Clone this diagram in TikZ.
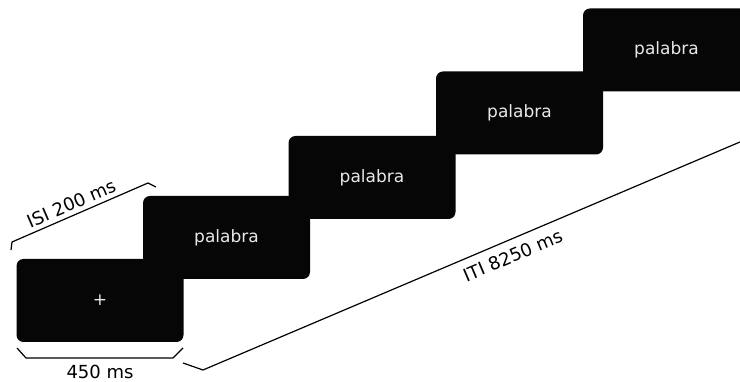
\documentclass[tikz,border=0pt]{standalone}
\usepackage{fontspec}
\setmainfont{DejaVu Sans}
\usepackage{xcolor}
\definecolor{screenblack}{HTML}{060606}
\definecolor{screentext}{HTML}{E8E8E8}

\begin{document}
\begin{tikzpicture}[x=1pt, y=1pt,
    screen/.style={rectangle, rounded corners=7pt, fill=screenblack, text=screentext,
        minimum width=167pt, minimum height=83pt, inner sep=0pt, font=\fontsize{17}{20}\selectfont},
    brace/.style={line width=1.2pt, line join=round},
    timing/.style={font=\fontsize{18}{21}\selectfont, text=black}]
    \useasboundingbox (0,0) rectangle (740,382);
    \clip (0,0) rectangle (740,382);

    % Screens of the trial
    \node[screen] (fix) at (100,81.5) {+};
    \node[screen] (w1) at (226.5,144.5) {palabra};
    \node[screen] (w2) at (372,204.5) {palabra};
    \node[screen] (w3) at (519.5,269) {palabra};
    \node[screen] (w4) at (666.5,332) {palabra};

    % Fixation duration
    \draw[brace] (17,34) -- (26,24) -- (173,24) -- (183,34);
    \node[timing, anchor=base, inner sep=0pt] (fixtime) at (100,3.5) {450 ms};

    % Interstimulus interval
    \draw[brace] (11,132) -- (12,140)
        -- node[timing, pos=0.47, above=1pt, sloped] (isi) {ISI 200 ms} (148,199) -- (156,195);

    % Intertrial interval
    \draw[brace] (183,19) -- (203,12)
        -- node[timing, pos=0.545, below=5pt, sloped] (iti) {ITI 8250 ms} (760,248.5);

\end{tikzpicture}
\end{document}
